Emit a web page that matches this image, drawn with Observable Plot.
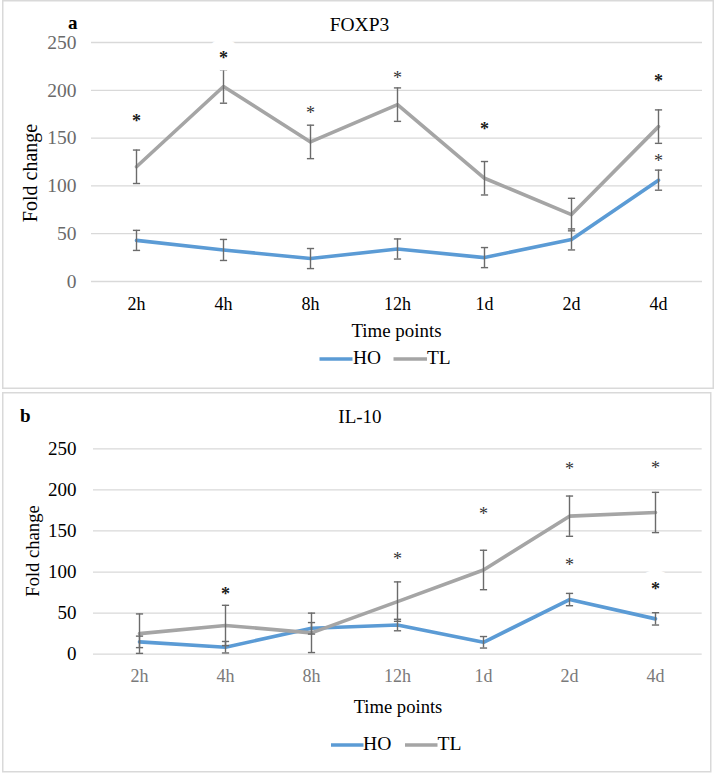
<!DOCTYPE html>
<html>
<head>
<meta charset="utf-8">
<script src="https://cdn.jsdelivr.net/npm/d3@7"></script>
<script src="https://cdn.jsdelivr.net/npm/@observablehq/plot@0.6"></script>
<style>
  body { margin: 0; background: #fff; }
  #page { position: relative; width: 720px; height: 774px; background: #fff; overflow: hidden; }
  .panel { position: absolute; left: 0; }
  #overlay { position: absolute; left: 0; top: 0; pointer-events: none; }
  svg text { font-family: "Liberation Serif", "Times New Roman", serif; }
</style>
</head>
<body>
<div id="page">
  <div id="A" class="panel" style="top:0px"></div>
  <div id="B" class="panel" style="top:390px"></div>
  <svg id="overlay" width="720" height="774" font-family="Liberation Serif, Times New Roman, serif">
    <rect x="2.75" y="0.75" width="710.5" height="387.5" fill="none" stroke="#d9d9d9" stroke-width="1.5"/>
    <rect x="2.75" y="392.75" width="708" height="379" fill="none" stroke="#d9d9d9" stroke-width="1.5"/>
    <!-- panel a texts -->
    <text x="68" y="29" font-size="19" font-weight="bold" fill="#000">a</text>
    <text x="359.5" y="30.5" font-size="19.5" text-anchor="middle" fill="#000">FOXP3</text>
    <text transform="translate(36.5,173) rotate(-90)" font-size="20" text-anchor="middle" fill="#000">Fold change</text>
    <text x="396.5" y="337.3" font-size="18.9" text-anchor="middle" fill="#000">Time points</text>
    <line x1="319.5" x2="352.5" y1="359" y2="359" stroke="#5B9BD5" stroke-width="3.6"/>
    <text x="353" y="364.3" font-size="19.4" fill="#000">HO</text>
    <line x1="393.5" x2="427" y1="359" y2="359" stroke="#A5A5A5" stroke-width="3.6"/>
    <text x="427" y="364.3" font-size="19.4" fill="#000">TL</text>
    <!-- panel b texts -->
    <text x="20" y="421.7" font-size="19" font-weight="bold" fill="#000">b</text>
    <text x="360" y="423.3" font-size="19" text-anchor="middle" fill="#000">IL-10</text>
    <text transform="translate(38.5,551) rotate(-90)" font-size="18.6" text-anchor="middle" fill="#000">Fold change</text>
    <text x="398" y="713.3" font-size="18.6" text-anchor="middle" fill="#000">Time points</text>
    <line x1="331" x2="363.5" y1="745" y2="745" stroke="#5B9BD5" stroke-width="3.6"/>
    <text x="363" y="750" font-size="19.6" fill="#000">HO</text>
    <line x1="405" x2="437.5" y1="745" y2="745" stroke="#A5A5A5" stroke-width="3.6"/>
    <text x="437.5" y="750" font-size="19.6" fill="#000">TL</text>
  </svg>
</div>
<script>
// ---- data ----
const timePoints = ["2h", "4h", "8h", "12h", "1d", "2d", "4d"];
const seriesNames = ["HO", "TL"];
const seriesColors = ["#5B9BD5", "#A5A5A5"];
const yTicks = [0, 50, 100, 150, 200, 250];

// Panel a: FOXP3
const foxp3HO = [43, 33, 24, 34, 25, 44, 106];
const foxp3HOErr = [10.5, 11, 10.5, 10.5, 10.5, 11, 10.5];
const foxp3TL = [120, 204, 146, 185, 108, 70, 162];
const foxp3TLErr = [17.5, 17.5, 17.5, 17.5, 17.5, 17, 17.5];
const foxp3StarTime = ["2h", "4h", "8h", "12h", "1d", "4d", "4d"];
const foxp3StarY = [172, 238, 180, 216.5, 163, 214, 130];
const foxp3StarBold = [true, true, false, false, true, true, false];
const foxp3StarHalo = [false, true, false, false, false, false, false];

// Panel b: IL-10
const il10HO = [15, 8.5, 31.5, 35.5, 14.5, 66.5, 43];
const il10HOErr = [7, 7, 7, 7, 7, 7.5, 7.5];
const il10TL = [25, 35, 26, 64, 102.5, 168, 172.5];
const il10TLErr = [24, 24.5, 24, 24, 24, 24.5, 24.5];
const il10StarTime = ["4h", "12h", "1d", "2d", "4d", "2d", "4d"];
const il10StarY = [78, 120, 175.7, 229.5, 230.8, 113, 83.6];
const il10StarBold = [true, false, false, false, false, false, true];
const il10StarHalo = [false, false, false, false, false, false, true];

// ---- helpers ----
const capSymbol = {
  draw(ctx, size) {
    const r = Math.sqrt(size / Math.PI);
    ctx.moveTo(-r, 0);
    ctx.lineTo(r, 0);
  }
};

function buildRows(ho, hoErr, tl, tlErr) {
  const rows = [];
  timePoints.forEach((t, i) => rows.push({t, series: "HO", v: ho[i], e: hoErr[i]}));
  timePoints.forEach((t, i) => rows.push({t, series: "TL", v: tl[i], e: tlErr[i]}));
  return rows;
}
function buildStars(times, ys, bold, halo) {
  return times.map((t, i) => ({t, v: ys[i], bold: bold[i], halo: halo[i]}));
}

function panel(cfg) {
  const rows = buildRows(cfg.ho, cfg.hoErr, cfg.tl, cfg.tlErr);
  const stars = cfg.stars;
  const errColor = "#6b6b6b";
  const starDy = 4;
  return Plot.plot({
    width: 720,
    height: cfg.height,
    marginTop: cfg.marginTop,
    marginBottom: cfg.marginBottom,
    marginLeft: cfg.marginLeft,
    marginRight: cfg.marginRight,
    style: {fontFamily: "Liberation Serif, Times New Roman, serif", background: "transparent", overflow: "visible"},
    x: {type: "point", domain: timePoints, padding: 0.5},
    y: {domain: [0, 250]},
    color: {domain: seriesNames, range: seriesColors},
    marks: [
      Plot.gridY(yTicks, {stroke: "#d9d9d9", strokeOpacity: 1, strokeWidth: 1.3}),
      Plot.axisY(yTicks, {tickSize: 0, tickPadding: cfg.yPad, fontSize: cfg.yFont, color: cfg.yColor, label: null}),
      Plot.axisX({tickSize: 0, tickPadding: cfg.xPad, fontSize: 18, color: cfg.xColor, label: null}),
      Plot.lineY(rows, {x: "t", y: "v", stroke: "series", strokeWidth: 3.6, strokeLinejoin: "round", strokeLinecap: "round"}),
      Plot.ruleX(rows, {x: "t", y1: d => d.v - d.e, y2: d => d.v + d.e, stroke: errColor, strokeWidth: 1.4}),
      Plot.dot(rows, {x: "t", y: d => d.v + d.e, symbol: capSymbol, r: 3.6, stroke: errColor, strokeWidth: 1.4, fill: "none"}),
      Plot.dot(rows, {x: "t", y: d => d.v - d.e, symbol: capSymbol, r: 3.6, stroke: errColor, strokeWidth: 1.4, fill: "none"}),
      Plot.text(stars.filter(d => d.halo), {x: "t", y: "v", text: () => "*", fontSize: 18, fontWeight: "bold", dy: starDy, fill: "white", stroke: "white", strokeWidth: 24, strokeLinejoin: "round"}),
      Plot.text(stars.filter(d => d.bold), {x: "t", y: "v", text: () => "*", fontSize: 18, fontWeight: "bold", dy: starDy, fill: "#1a1a1a"}),
      Plot.text(stars.filter(d => !d.bold), {x: "t", y: "v", text: () => "*", fontSize: 18, dy: starDy, fill: "#333"})
    ]
  });
}

document.getElementById("A").appendChild(panel({
  ho: foxp3HO, hoErr: foxp3HOErr, tl: foxp3TL, tlErr: foxp3TLErr,
  stars: buildStars(foxp3StarTime, foxp3StarY, foxp3StarBold, foxp3StarHalo),
  height: 390, marginTop: 42, marginBottom: 109, marginLeft: 91, marginRight: 18,
  yPad: 15, yFont: 19.5, yColor: "#6a6a6a", xPad: 16, xColor: "#000"
}));

document.getElementById("B").appendChild(panel({
  ho: il10HO, hoErr: il10HOErr, tl: il10TL, tlErr: il10TLErr,
  stars: buildStars(il10StarTime, il10StarY, il10StarBold, il10StarHalo),
  height: 384, marginTop: 58.3, marginBottom: 120.3, marginLeft: 93, marginRight: 18.3,
  yPad: 17, yFont: 19, yColor: "#000", xPad: 15, xColor: "#7a7a7a"
}));
</script>
</body>
</html>
